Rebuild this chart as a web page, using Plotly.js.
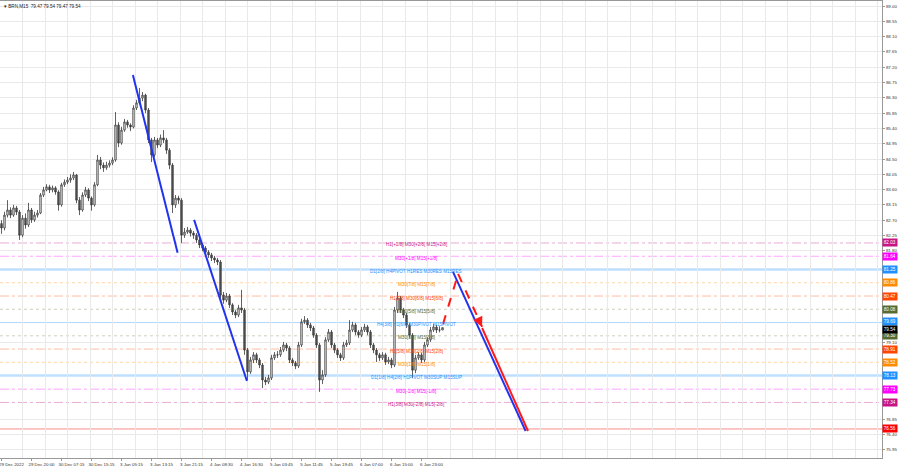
<!DOCTYPE html>
<html><head><meta charset="utf-8">
<script src="https://cdn.plot.ly/plotly-3.0.1.min.js"></script>
<style>html,body{margin:0;padding:0;background:#fff}#chart{width:900px;height:468px}</style>
</head><body><div id="chart"></div>
<script>
// ---- data ----
const symbolTitle = 'BRN,M15';
const lastBarOHLC = [79.47, 79.54, 79.47, 79.54];
const opens = [
82.60,82.47,82.85,83.00,82.85,83.06,82.94,82.26,82.76,82.56,
83.00,82.71,82.85,82.91,83.44,83.59,83.68,83.59,83.65,83.53,
83.15,83.74,83.82,83.88,83.94,84.03,83.29,83.00,83.44,83.59,
83.35,83.15,83.74,84.47,84.32,84.24,84.32,84.38,84.47,85.50,
84.97,85.35,85.59,85.50,85.44,86.00,86.15,86.29,86.38,85.94,
85.06,84.62,85.06,84.91,85.12,85.06,84.76,84.32,83.15,83.35,
83.29,82.26,82.35,82.41,82.32,82.26,82.12,81.97,81.88,81.76,
81.68,81.59,81.53,81.47,80.50,80.35,80.47,80.21,80.00,79.91,
80.12,80.06,78.88,78.24,78.59,78.74,78.59,78.44,78.00,77.94,
78.06,78.65,78.74,78.74,78.88,79.03,78.94,78.59,78.50,78.41,
79.03,79.71,79.76,79.62,79.53,79.32,79.03,78.00,78.15,79.18,
79.41,79.03,78.88,78.74,78.65,79.03,79.09,79.47,79.62,79.41,
79.32,79.47,79.56,79.41,79.03,78.88,78.74,78.65,78.74,78.53,
78.59,78.44,80.06,80.41,80.06,79.91,79.62,79.32,78.29,78.65,
78.74,78.59,79.03,79.18,79.47,79.56,79.47,79.47];
const highs = [
82.70,82.95,83.29,83.08,83.15,83.12,83.00,82.85,82.90,83.21,
83.06,82.95,83.00,83.50,83.68,83.76,83.74,83.72,83.70,83.58,
83.80,83.90,83.97,84.05,84.12,84.06,83.38,83.52,83.68,83.64,
83.40,83.82,84.62,84.56,84.40,84.42,84.46,84.55,85.88,85.58,
85.45,85.68,85.65,85.55,86.08,86.24,86.59,86.47,86.42,86.00,
85.12,85.15,85.12,85.22,85.35,85.12,84.82,84.38,83.44,83.42,
83.35,82.47,82.50,82.47,82.38,82.32,82.18,82.03,81.94,81.82,
81.74,81.65,81.59,81.53,80.59,80.56,80.53,80.26,80.06,80.21,
80.65,80.12,78.94,78.68,78.82,78.80,78.65,78.50,78.09,78.15,
78.74,78.82,78.85,78.97,79.12,79.09,79.00,78.65,78.56,79.12,
79.80,79.88,79.82,79.68,79.59,79.38,79.09,78.29,79.26,79.50,
79.47,79.09,78.94,78.80,79.12,79.18,79.76,79.71,79.68,79.47,
79.56,79.65,79.62,79.47,79.09,78.94,78.80,78.82,78.80,78.68,
78.65,80.15,80.59,80.47,80.12,79.97,79.68,79.38,78.74,78.82,
78.80,79.12,79.26,79.56,79.65,79.62,79.58,79.54];
const lows = [
82.30,82.40,82.78,82.76,82.80,82.85,82.12,82.20,82.45,82.50,
82.62,82.65,82.78,82.88,83.38,83.55,83.50,83.52,83.45,82.98,
83.10,83.68,83.76,83.80,83.88,83.20,82.85,82.95,83.38,83.26,
82.98,83.10,83.70,84.20,84.12,84.18,84.25,84.32,84.42,84.85,
84.92,85.30,85.42,85.32,85.40,85.94,86.10,86.20,85.85,84.97,
84.41,84.55,84.82,84.85,84.97,84.65,84.20,82.91,83.06,83.18,
82.03,82.18,82.30,82.22,82.15,82.03,81.88,81.79,81.68,81.59,
81.50,81.44,81.38,80.41,80.24,80.29,80.12,79.91,79.82,79.85,
79.97,78.74,78.00,78.18,78.50,78.50,78.35,77.76,77.85,77.88,
78.00,78.59,78.65,78.68,78.82,78.85,78.50,78.41,78.32,78.35,
78.97,79.65,79.53,79.44,79.24,78.94,77.65,77.88,78.09,79.12,
78.94,78.79,78.65,78.56,78.59,78.97,79.03,79.41,79.32,79.24,
79.26,79.41,79.32,78.94,78.79,78.53,78.56,78.59,78.44,78.47,
78.35,78.38,79.97,79.97,79.82,79.53,79.24,78.06,78.20,78.59,
78.50,78.53,78.97,79.12,79.41,79.38,79.40,79.47];
const closes = [
82.47,82.85,83.00,82.85,83.06,82.94,82.26,82.76,82.56,83.00,
82.71,82.85,82.91,83.44,83.59,83.68,83.59,83.65,83.53,83.15,
83.74,83.82,83.88,83.94,84.03,83.29,83.00,83.44,83.59,83.35,
83.15,83.74,84.47,84.32,84.24,84.32,84.38,84.47,85.50,84.97,
85.35,85.59,85.50,85.44,86.00,86.15,86.29,86.38,85.94,85.06,
84.62,85.06,84.91,85.12,85.06,84.76,84.32,83.15,83.35,83.29,
82.26,82.35,82.41,82.32,82.26,82.12,81.97,81.88,81.76,81.68,
81.59,81.53,81.47,80.50,80.35,80.47,80.21,80.00,79.91,80.12,
80.06,78.88,78.24,78.59,78.74,78.59,78.44,78.00,77.94,78.06,
78.65,78.74,78.74,78.88,79.03,78.94,78.59,78.50,78.41,79.03,
79.71,79.76,79.62,79.53,79.32,79.03,78.00,78.15,79.18,79.41,
79.03,78.88,78.74,78.65,79.03,79.09,79.47,79.62,79.41,79.32,
79.47,79.56,79.41,79.03,78.88,78.74,78.65,78.74,78.53,78.59,
78.44,80.06,80.41,80.06,79.91,79.62,79.32,78.29,78.65,78.74,
78.59,79.03,79.18,79.47,79.56,79.47,79.47,79.54];

const timeLabels = ['29 Dec 2022','29 Dec 20:00','30 Dec 07:15','30 Dec 15:15','3 Jan 05:15','3 Jan 13:15','3 Jan 21:15','4 Jan 08:30','4 Jan 16:30','5 Jan 03:45','5 Jan 11:45','5 Jan 19:45','6 Jan 07:00','6 Jan 15:00','6 Jan 23:00'];
const timeLabelBars = [0,10,20,30,40,50,60,70,80,90,100,110,120,130,140];

const levelPrices = [82.03,81.64,81.25,80.86,80.47,80.08,79.69,79.30,78.91,78.52,78.13,77.73,77.34,76.56];
const levelTexts = ['H1[+1/8] M30[+2/8] M15[+2/8]','M30[+1/8] M15[+1/8]','D1[2/8] H4PIVOT H1RES M30RES M15RES','M30[7/8] M15[7/8]','H1[7/8] M30[6/8] M15[6/8]','M30[5/8] M15[5/8]','H4[3/8] H1[6/8] M30PIVOT M15PIVOT','M30[3/8] M15[3/8]','H1[5/8] M30[2/8] M15[2/8]','M30[1/8] M15[1/8]','D1[1/8] H4[2/8] H1PIVOT M30SUP M15SUP','M30[-1/8] M15[-1/8]','H1[3/8] M30[-2/8] M15[-2/8]',''];
const currentPrice = 79.54;
const priceTickStart = 75.95, priceTickStep = 0.45, priceTickEnd = 89.00;

// drawn objects (bar index, price)
const trend1Bars = [43.8, 58.7], trend1Prices = [86.97, 81.74];
const trend2Bars = [64.2, 81.8], trend2Prices = [82.71, 77.97];
const projBlueBars = [150.5, 174.7], projBluePrices = [81.18, 76.50];
const projUpBars = [147.2, 152.2], projUpPrices = [79.65, 81.12];
const projDownBars = [152.2, 160.2], projDownPrices = [81.12, 79.56];
const projRedBars = [160.2, 175.5], projRedPrices = [79.53, 76.50];

// ---- styles ----
const levelColors = ['#C71585','#FF00FF','#1E90FF','#FF8C00','#FF4500','#556B2F','#1E90FF','#556B2F','#FF4500','#FF8C00','#1E90FF','#FF00FF','#C71585','#FF0000'];
const levelDash = ['dashdot','dashdot','solid','dot','dashdot','dot','solid','dot','dashdot','dot','solid','dashdot','dashdot','solid'];
const levelWidth = [1,1,2.5,1,1,1,1,1,1,1,2.5,1,1,1];
const levelOpacity = [0.35,0.35,0.28,0.35,0.35,0.3,0.35,0.3,0.35,0.35,0.28,0.35,0.35,0.45];
const boxShift = [0,0,0,0,0,0,1.5,0,0,0,0,0,0,0];
const FONT = 'Liberation Sans, Arial, sans-serif';

const barIdx = closes.map((_, i) => i);
const traces = [{
  type: 'candlestick', x: barIdx, open: opens, high: highs, low: lows, close: closes,
  increasing: {line: {color: '#3a3a3a', width: 0.8}, fillcolor: '#fff'},
  decreasing: {line: {color: '#3a3a3a', width: 0.8}, fillcolor: '#555'},
  whiskerwidth: 0, hoverinfo: 'skip', showlegend: false
}];
function seg(xs, ys, color, dash) {
  traces.push({type: 'scatter', mode: 'lines', x: xs, y: ys, line: {color: color, width: 2, dash: dash || 'solid'}, hoverinfo: 'skip', showlegend: false});
}
seg(trend1Bars, trend1Prices, '#2233ee');
seg(trend2Bars, trend2Prices, '#2233ee');
seg(projBlueBars, projBluePrices, '#2233ee');
seg(projRedBars, projRedPrices, '#ff1a1a');
seg(projUpBars, projUpPrices, '#ff1a1a', 'dash');
seg(projDownBars, projDownPrices, '#ff1a1a', 'dash');

// price ticks, leaving out the ones hidden behind the level boxes
const boxPrices = levelPrices.concat([currentPrice]);
const priceTicks = [];
for (let v = priceTickStart; v <= priceTickEnd + 1e-6; v += priceTickStep) {
  const t = Math.round(v * 100) / 100;
  if (boxPrices.every(b => Math.abs(b - t) > 0.14)) priceTicks.push(t);
}

const shapes = [];
const annotations = [];
levelPrices.forEach((p, i) => {
  shapes.push({type: 'line', xref: 'paper', x0: 0, x1: 1, yref: 'y', y0: p, y1: p, layer: 'below',
    opacity: levelOpacity[i], line: {color: levelColors[i], width: levelWidth[i], dash: levelDash[i]}});
  if (levelTexts[i]) {
    annotations.push({xref: 'x', yref: 'y', x: 138.2, y: p, yshift: -2, text: levelTexts[i], showarrow: false,
      xanchor: 'center', yanchor: 'middle', font: {family: FONT, size: 4.6, color: levelColors[i]}});
  }
  annotations.push({xref: 'paper', yref: 'y', x: 1, y: p, xanchor: 'left', yanchor: 'middle', xshift: 0, yshift: boxShift[i],
    text: p.toFixed(2), showarrow: false, bgcolor: levelColors[i], borderpad: 0.8,
    font: {family: FONT, size: 4.6, color: '#fff'}});
});
annotations.push({xref: 'paper', yref: 'y', x: 1, y: currentPrice, xanchor: 'left', yanchor: 'middle', yshift: -1.5,
  text: currentPrice.toFixed(2), showarrow: false, bgcolor: '#000', borderpad: 0.8,
  font: {family: FONT, size: 4.6, color: '#fff'}});
// arrow head on dashed projection
annotations.push({xref: 'x', yref: 'y', axref: 'x', ayref: 'y', x: projDownBars[1], y: projDownPrices[1],
  ax: 158.8, ay: 79.82, showarrow: true, arrowhead: 2, arrowsize: 1, arrowwidth: 2, arrowcolor: '#ff1a1a', text: ''});
// header
annotations.push({xref: 'paper', yref: 'paper', x: 0, y: 1, xanchor: 'left', yanchor: 'top', xshift: 2, yshift: -1,
  text: '\u25BE ' + symbolTitle + '  ' + lastBarOHLC.map(v => v.toFixed(2)).join(' '), showarrow: false,
  font: {family: FONT, size: 4.6, color: '#222'}});

const layout = {
  width: 900, height: 468,
  margin: {l: 0, r: 18, t: 1, b: 10, pad: 0},
  paper_bgcolor: '#fff', plot_bgcolor: '#fff',
  showlegend: false,
  xaxis: {
    range: [-0.5, 293.5], rangeslider: {visible: false},
    tickmode: 'array', tickvals: timeLabelBars, ticktext: timeLabels,
    ticks: 'outside', ticklen: 2, tickcolor: '#999', ticklabelshift: 10, ticklabeloverflow: 'allow',
    tickfont: {family: FONT, size: 4.4, color: '#333'},
    showgrid: false, zeroline: false,
    minor: {tick0: -0.5, dtick: 7.5, showgrid: true, gridcolor: '#e9e9e9', gridwidth: 1, ticks: ''},
    showline: true, mirror: true, linecolor: '#999', linewidth: 1, fixedrange: true
  },
  yaxis: {
    side: 'right', range: [75.706, 89.147],
    tickmode: 'array', tickvals: priceTicks, ticktext: priceTicks.map(v => v.toFixed(2)),
    ticks: 'outside', ticklen: 2, tickcolor: '#999',
    tickfont: {family: FONT, size: 4.4, color: '#333'},
    showgrid: true, gridcolor: '#e9e9e9', gridwidth: 1, zeroline: false,
    showline: true, mirror: true, linecolor: '#999', linewidth: 1, fixedrange: true
  },
  shapes: shapes,
  annotations: annotations
};
Plotly.newPlot('chart', traces, layout, {displayModeBar: false, staticPlot: true});
</script>
</body></html>
